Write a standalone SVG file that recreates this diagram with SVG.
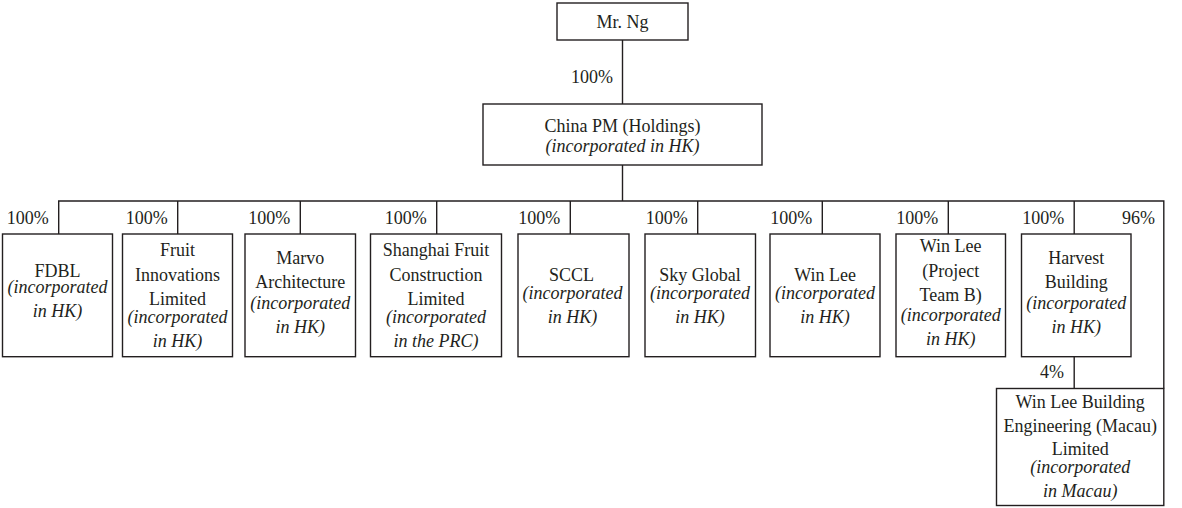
<svg xmlns="http://www.w3.org/2000/svg" width="1182" height="508" viewBox="0 0 1182 508">
<style>
.box{fill:#fff;stroke:#231f20;stroke-width:1.4}
.ln{fill:none;stroke:#231f20;stroke-width:1.4}
text{font-family:"Liberation Serif","Times New Roman",serif;font-size:18px;fill:#231f20;text-anchor:middle}
.it{font-style:italic}
.pc{text-anchor:end}
</style>
<g id="connectors">
<line class="ln" x1="622.5" y1="40" x2="622.5" y2="104"/>
<line class="ln" x1="622.5" y1="165" x2="622.5" y2="201"/>
<polyline class="ln" points="58.7,234 58.7,201 1163.8,201 1163.8,388.5"/>
<line class="ln" x1="177.7" y1="201" x2="177.7" y2="234"/>
<line class="ln" x1="300.3" y1="201" x2="300.3" y2="234"/>
<line class="ln" x1="436.7" y1="201" x2="436.7" y2="234"/>
<line class="ln" x1="570.3" y1="201" x2="570.3" y2="234"/>
<line class="ln" x1="697.7" y1="201" x2="697.7" y2="234"/>
<line class="ln" x1="822.3" y1="201" x2="822.3" y2="234"/>
<line class="ln" x1="948.3" y1="201" x2="948.3" y2="234"/>
<line class="ln" x1="1074.2" y1="201" x2="1074.2" y2="234"/>
<line class="ln" x1="1074.2" y1="357" x2="1074.2" y2="388.5"/>
<text class="pc" x="613" y="83">100%</text>
<text class="pc" x="48.7" y="224">100%</text>
<text class="pc" x="167.7" y="224">100%</text>
<text class="pc" x="290.3" y="224">100%</text>
<text class="pc" x="426.7" y="224">100%</text>
<text class="pc" x="560.3" y="224">100%</text>
<text class="pc" x="687.7" y="224">100%</text>
<text class="pc" x="812.3" y="224">100%</text>
<text class="pc" x="938.3" y="224">100%</text>
<text class="pc" x="1064.2" y="224">100%</text>
<text class="pc" x="1155" y="224">96%</text>
<text class="pc" x="1064" y="378">4%</text>
</g>
<g id="mr-ng">
<rect class="box" x="557" y="3" width="131" height="37"/>
<text x="622.5" y="28">Mr. Ng</text>
</g>
<g id="china-pm">
<rect class="box" x="483" y="104" width="279" height="61"/>
<text x="622.5" y="131.5">China PM (Holdings)</text>
<text class="it" x="622.5" y="151.5">(incorporated in HK)</text>
</g>
<g id="fdbl">
<rect class="box" x="2.5" y="234" width="110" height="122.7"/>
<text x="57.5" y="276.5">FDBL</text>
<text class="it" x="57.5" y="292.5">(incorporated</text>
<text class="it" x="57.5" y="316.5">in HK)</text>
</g>
<g id="fruit-innovations">
<rect class="box" x="122.5" y="234" width="110" height="122.7"/>
<text x="177.5" y="256">Fruit</text>
<text x="177.5" y="280.5">Innovations</text>
<text x="177.5" y="305">Limited</text>
<text class="it" x="177.5" y="322.5">(incorporated</text>
<text class="it" x="177.5" y="346.5">in HK)</text>
</g>
<g id="marvo">
<rect class="box" x="245" y="234" width="110.5" height="122.7"/>
<text x="300.3" y="264">Marvo</text>
<text x="300.3" y="287.7">Architecture</text>
<text class="it" x="300.3" y="309.3">(incorporated</text>
<text class="it" x="300.3" y="333.3">in HK)</text>
</g>
<g id="shanghai-fruit">
<rect class="box" x="370.5" y="234" width="131" height="122.7"/>
<text x="436" y="256">Shanghai Fruit</text>
<text x="436" y="281">Construction</text>
<text x="436" y="305">Limited</text>
<text class="it" x="436" y="322.5">(incorporated</text>
<text class="it" x="436" y="346.5">in the PRC)</text>
</g>
<g id="sccl">
<rect class="box" x="518" y="234" width="111" height="122.7"/>
<text x="571.5" y="281">SCCL</text>
<text class="it" x="572.5" y="298.7">(incorporated</text>
<text class="it" x="572.5" y="322.7">in HK)</text>
</g>
<g id="sky-global">
<rect class="box" x="645" y="234" width="110.5" height="122.7"/>
<text x="700" y="281">Sky Global</text>
<text class="it" x="700" y="298.7">(incorporated</text>
<text class="it" x="700" y="322.7">in HK)</text>
</g>
<g id="win-lee">
<rect class="box" x="770" y="234" width="110" height="122.7"/>
<text x="825" y="281">Win Lee</text>
<text class="it" x="825" y="298.5">(incorporated</text>
<text class="it" x="825" y="322.5">in HK)</text>
</g>
<g id="win-lee-b">
<rect class="box" x="896" y="234" width="109.5" height="122.7"/>
<text x="950.7" y="252">Win Lee</text>
<text x="950.7" y="276.5">(Project</text>
<text x="950.7" y="300.5">Team B)</text>
<text class="it" x="950.7" y="320.5">(incorporated</text>
<text class="it" x="950.7" y="345">in HK)</text>
</g>
<g id="harvest">
<rect class="box" x="1021.5" y="234" width="109.5" height="122.7"/>
<text x="1076.2" y="263.5">Harvest</text>
<text x="1076.2" y="287.7">Building</text>
<text class="it" x="1076.2" y="309.3">(incorporated</text>
<text class="it" x="1076.2" y="333.3">in HK)</text>
</g>
<g id="win-lee-macau">
<rect class="box" x="996.5" y="388.5" width="167.3" height="117"/>
<text x="1080.2" y="407.5">Win Lee Building</text>
<text x="1080.2" y="431.7">Engineering (Macau)</text>
<text x="1080.2" y="455">Limited</text>
<text class="it" x="1080.2" y="473.3">(incorporated</text>
<text class="it" x="1080.2" y="497.3">in Macau)</text>
</g>
</svg>
